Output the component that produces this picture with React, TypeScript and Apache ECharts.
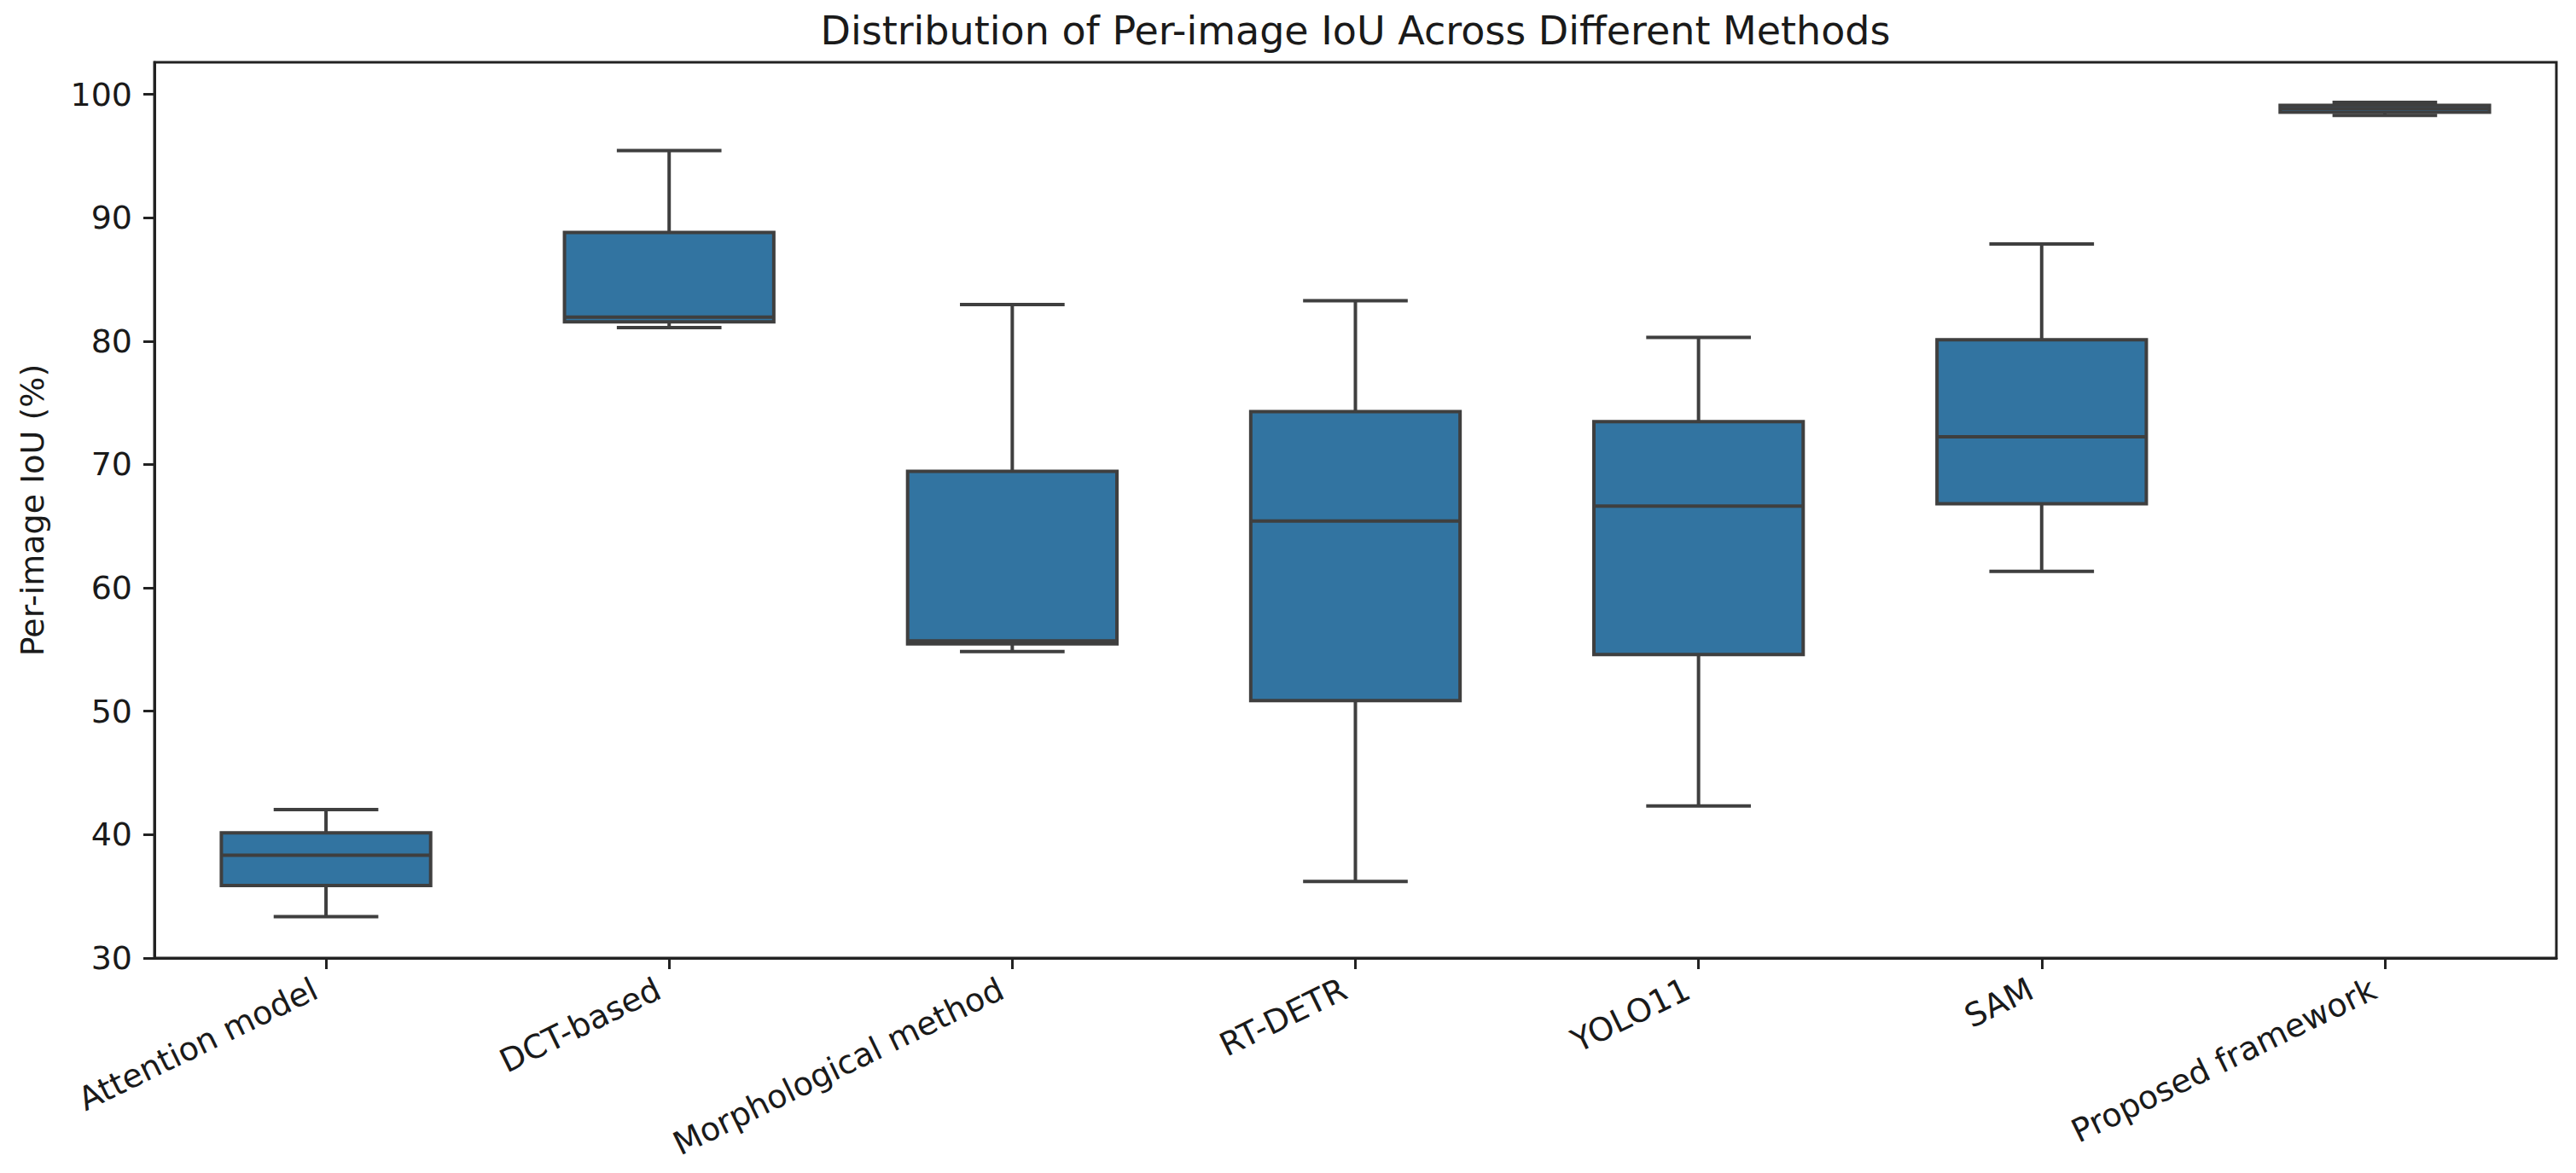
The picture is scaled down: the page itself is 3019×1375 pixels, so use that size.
import React, { useEffect, useRef } from "react";
import * as echarts from "echarts";

const categories = [
  "Attention model",
  "DCT-based",
  "Morphological method",
  "RT-DETR",
  "YOLO11",
  "SAM",
  "Proposed framework",
];
const whiskerLow = [33.35, 81.1, 54.84, 36.21, 42.32, 61.34, 98.3];
const quartile1 = [35.87, 81.56, 55.47, 50.86, 54.59, 66.82, 98.55];
const medians = [38.34, 81.95, 55.71, 65.41, 66.63, 72.25, 98.85];
const quartile3 = [40.14, 88.8, 69.44, 74.29, 73.47, 80.11, 99.1];
const whiskerHigh = [42.03, 95.45, 82.97, 83.27, 80.31, 87.87, 99.35];
const yTicks = [30, 40, 50, 60, 70, 80, 90, 100];

const FONT = "DejaVu Sans";
const TEXT = "#1a1a1a";
const AXIS = "#222222";
const LINE = "#3f3f3f";
const FILL = "#3274a1";

export default function App() {
  const ref = useRef<HTMLDivElement>(null);
  useEffect(() => {
    if (!ref.current) return;
    const chart = echarts.init(ref.current, undefined, { renderer: "svg" });
    const data = categories.map((_, i) => [
      i,
      whiskerLow[i],
      quartile1[i],
      medians[i],
      quartile3[i],
      whiskerHigh[i],
    ]);
    const gridLeft = 181;
    const gridRight = 23;
    const gridTop = 73;
    const gridBottom = 252;
    const plotCenter = gridLeft + (3019 - gridLeft - gridRight) / 2;
    chart.setOption({
      animation: false,
      backgroundColor: "#ffffff",
      grid: {
        left: gridLeft,
        right: gridRight,
        top: gridTop,
        bottom: gridBottom,
        show: true,
        borderColor: AXIS,
        borderWidth: 3,
        containLabel: false,
      },
      graphic: [
        {
          type: "text",
          x: plotCenter,
          y: 36,
          style: {
            text: "Distribution of Per-image IoU Across Different Methods",
            fontFamily: FONT,
            fontSize: 46,
            fill: TEXT,
            textAlign: "center",
            textVerticalAlign: "middle",
          },
        },
        {
          type: "text",
          x: 38,
          y: gridTop + (1375 - gridTop - gridBottom) / 2,
          rotation: Math.PI / 2,
          style: {
            text: "Per-image IoU (%)",
            fontFamily: FONT,
            fontSize: 38,
            fill: TEXT,
            textAlign: "center",
            textVerticalAlign: "middle",
          },
        },
      ],
      xAxis: {
        type: "category",
        data: categories,
        boundaryGap: true,
        axisLine: { show: true, lineStyle: { color: AXIS, width: 3 } },
        axisTick: {
          show: true,
          alignWithLabel: true,
          length: 13,
          lineStyle: { color: AXIS, width: 3 },
        },
        axisLabel: {
          rotate: 26,
          interval: 0,
          margin: 28,
          fontFamily: FONT,
          fontSize: 38,
          color: TEXT,
          padding: [0, 14, 0, 0],
        },
        splitLine: { show: false },
      },
      yAxis: {
        type: "value",
        min: 30,
        max: 102.6,
        interval: 10,
        axisLine: { show: true, lineStyle: { color: AXIS, width: 3 } },
        axisTick: {
          show: true,
          length: 13,
          lineStyle: { color: AXIS, width: 3 },
          customValues: yTicks,
        },
        axisLabel: {
          margin: 26,
          fontFamily: FONT,
          fontSize: 38,
          color: TEXT,
          customValues: yTicks,
        },
        splitLine: { show: false },
      },
      series: [
        {
          type: "custom",
          data,
          encode: { x: 0, y: [1, 2, 3, 4, 5] },
          renderItem: (params: any, api: any) => {
            const idx = api.value(0);
            const lo = api.coord([idx, api.value(1)]);
            const q1 = api.coord([idx, api.value(2)]);
            const md = api.coord([idx, api.value(3)]);
            const q3 = api.coord([idx, api.value(4)]);
            const hi = api.coord([idx, api.value(5)]);
            const band = api.size([1, 0])[0];
            const bw = band * 0.61;
            const cw = bw / 2;
            const x = lo[0];
            const ls = { stroke: LINE, lineWidth: 4 };
            return {
              type: "group",
              children: [
                { type: "line", shape: { x1: x, y1: q3[1], x2: x, y2: hi[1] }, style: ls },
                { type: "line", shape: { x1: x, y1: q1[1], x2: x, y2: lo[1] }, style: ls },
                { type: "line", shape: { x1: x - cw / 2, y1: hi[1], x2: x + cw / 2, y2: hi[1] }, style: ls },
                { type: "line", shape: { x1: x - cw / 2, y1: lo[1], x2: x + cw / 2, y2: lo[1] }, style: ls },
                {
                  type: "rect",
                  shape: { x: x - bw / 2, y: q3[1], width: bw, height: q1[1] - q3[1] },
                  style: { fill: FILL, stroke: LINE, lineWidth: 4 },
                },
                { type: "line", shape: { x1: x - bw / 2, y1: md[1], x2: x + bw / 2, y2: md[1] }, style: ls },
              ],
            };
          },
        },
      ],
    });
    return () => chart.dispose();
  }, []);
  return (
    <div
      ref={ref}
      style={{ position: "fixed", left: 0, top: 0, width: 3019, height: 1375, background: "#fff" }}
    />
  );
}
